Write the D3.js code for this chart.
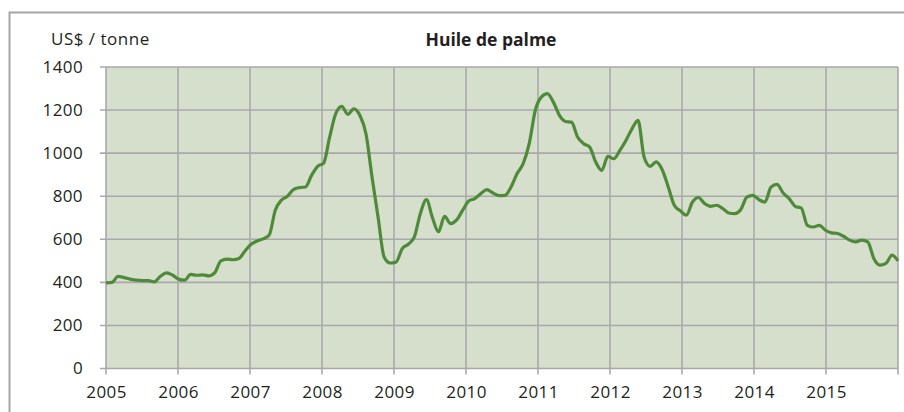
<!DOCTYPE html>
<html>
<head>
<meta charset="utf-8">
<script src="https://cdn.jsdelivr.net/npm/d3@7"></script>
<style>
  body { margin: 0; background: #fff; }
  text { font-family: "Open Sans", "Noto Sans", sans-serif; fill: #231f20; }
</style>
</head>
<body>
<div id="chart"></div>
<script>
// monthly palm oil price, US$ / tonne, Jan 2005 - Dec 2015
var years = [2005, 2006, 2007, 2008, 2009, 2010, 2011, 2012, 2013, 2014, 2015];
var yTicks = [0, 200, 400, 600, 800, 1000, 1200, 1400];
var prices = [
  398, 400, 428, 422, 415, 410, 408, 408, 402, 428, 444, 434,
  415, 410, 437, 433, 435, 430, 445, 500, 508, 505, 511, 546,
  577, 592, 602, 620, 735, 781, 800, 831, 840, 843, 897, 939,
  954, 1075, 1183, 1217, 1180, 1206, 1175, 1090, 889, 704, 518, 490,
  495, 557, 577, 611, 720, 784, 700, 635, 707, 673, 690, 735,
  778, 789, 812, 831, 815, 803, 804, 843, 905, 951, 1044, 1198,
  1260, 1276, 1237, 1175, 1147, 1144, 1075, 1044, 1028, 959, 920, 985,
  974, 1013, 1059, 1113, 1152, 982, 939, 959, 923, 843, 758, 732,
  712, 773, 794, 766, 753, 758, 743, 722, 719, 738, 796, 804,
  784, 773, 843, 855, 815, 789, 753, 745, 665, 657, 665, 642,
  630, 627, 614, 596, 588, 596, 588, 511, 480, 488, 526, 500
];

var svgWidth = 904;
var svgHeight = 412;
var margin = { top: 67, right: 6, bottom: 44, left: 106 };
var width = 898 - margin.left;
var height = 368.5 - margin.top;

var svg = d3.select("#chart")
  .append("svg")
  .attr("width", svgWidth)
  .attr("height", svgHeight);

// outer frame (only top and left edges show)
svg.append("path")
  .attr("d", "M9.5,420 L9.5,12.5 L910,12.5")
  .attr("fill", "none")
  .attr("stroke", "#a6a6a8")
  .attr("stroke-width", 2);

var chartGroup = svg.append("g")
  .attr("transform", `translate(${margin.left}, ${margin.top})`);

var xScale = d3.scaleLinear().domain([2005, 2016]).range([0, width]);
var yScale = d3.scaleLinear().domain([0, 1400]).range([height, 0]);

chartGroup.append("rect")
  .attr("width", width)
  .attr("height", height)
  .attr("fill", "#d6dfcb");

// grid
chartGroup.selectAll(".hgrid")
  .data(yTicks)
  .enter()
  .append("line")
  .attr("x1", -6)
  .attr("x2", width)
  .attr("y1", d => yScale(d))
  .attr("y2", d => yScale(d))
  .attr("stroke", "#a8a9ad")
  .attr("stroke-width", 1.6);

chartGroup.selectAll(".vgrid")
  .data(years.concat([2016]))
  .enter()
  .append("line")
  .attr("x1", d => xScale(d))
  .attr("x2", d => xScale(d))
  .attr("y1", 0)
  .attr("y2", height + 6)
  .attr("stroke", "#a8a9ad")
  .attr("stroke-width", 1.6);

// axes labels
var leftAxis = d3.axisLeft(yScale).tickValues(yTicks).tickFormat(d3.format("d")).tickSize(0).tickPadding(23);
var yAxis = chartGroup.append("g").call(leftAxis);
yAxis.select(".domain").remove();
yAxis.selectAll("text")
  .attr("font-size", "17px")
  .attr("letter-spacing", "0.4px")
  .style("font-family", "'Open Sans', sans-serif");

var bottomAxis = d3.axisBottom(xScale).tickValues(years).tickFormat(d3.format("d")).tickSize(0).tickPadding(17);
var xAxis = chartGroup.append("g")
  .attr("transform", `translate(0, ${height})`)
  .call(bottomAxis);
xAxis.select(".domain").remove();
xAxis.selectAll("text")
  .attr("font-size", "17px")
  .attr("letter-spacing", "0.4px")
  .style("font-family", "'Open Sans', sans-serif");

// price line
var line = d3.line()
  .x((d, i) => xScale(2005 + i * 11 / (prices.length - 1)))
  .y(d => yScale(d))
  .curve(d3.curveMonotoneX);

chartGroup.append("path")
  .datum(prices)
  .attr("fill", "none")
  .attr("stroke", "#4f8a3a")
  .attr("stroke-width", 3.2)
  .attr("stroke-linejoin", "round")
  .attr("d", line);

svg.append("text")
  .attr("x", 51)
  .attr("y", 45)
  .attr("font-size", "17px")
  .attr("letter-spacing", "0.5px")
  .text("US$ / tonne");

svg.append("text")
  .attr("x", 491)
  .attr("y", 46)
  .attr("text-anchor", "middle")
  .attr("font-size", "17.5px")
  .attr("font-weight", "bold")
  .text("Huile de palme");
</script>
</body>
</html>
